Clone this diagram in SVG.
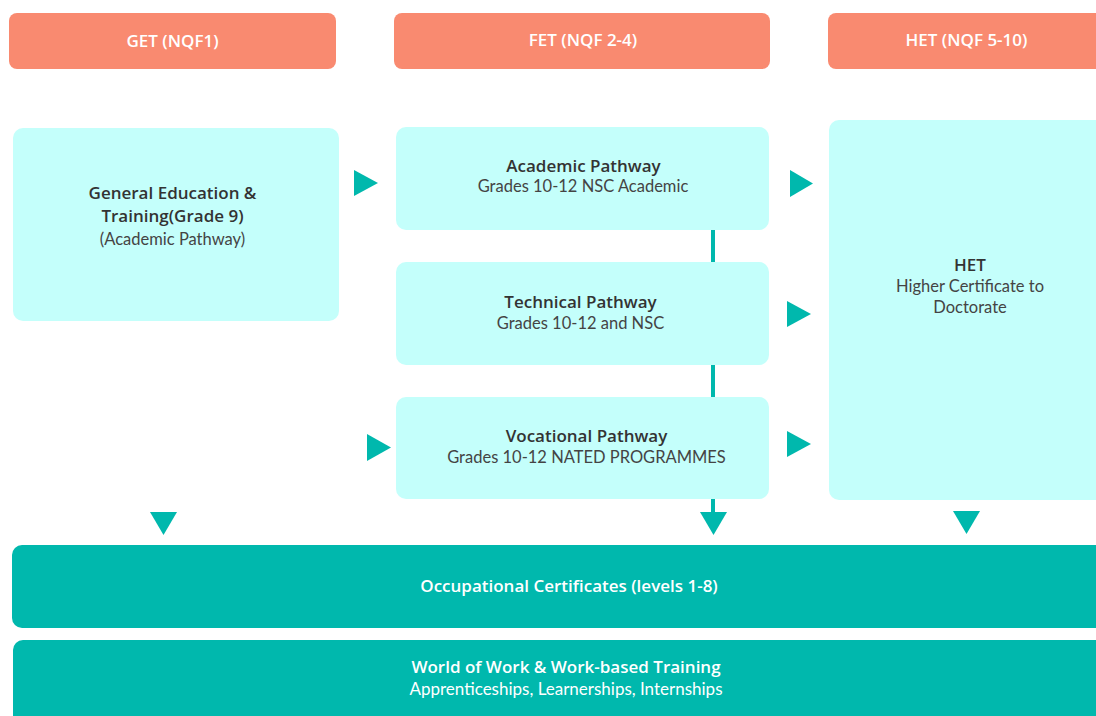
<svg xmlns="http://www.w3.org/2000/svg" width="1096" height="716" viewBox="0 0 1096 716">
  <style>
    .hdr { fill: #F98A70; }
    .box { fill: #C4FFFB; }
    .band { fill: #00B8AD; }
    .arr { fill: #00B8AD; }
    text { text-anchor: middle; }
    .ht, .t, .wt { font-family: "Open Sans", "Noto Sans", sans-serif; font-size: 17px; font-weight: 600; }
    .s, .ws { font-family: "Lato", "Noto Sans", sans-serif; font-size: 16.5px; }
    .ws { font-size: 17px; }
    .ht, .wt, .ws { fill: #FFFFFF; }
    .t { fill: #333333; }
    .s { fill: #444444; }
  </style>
  <rect width="1096" height="716" fill="#FFFFFF"/>

  <!-- column headers -->
  <g id="hdr-get">
    <rect class="hdr" x="9" y="13" width="327" height="56" rx="8"/>
    <text class="ht" x="172.5" y="47">GET (NQF1)</text>
  </g>
  <g id="hdr-fet">
    <rect class="hdr" x="394" y="13" width="376" height="56" rx="8"/>
    <text class="ht" x="583" y="46">FET (NQF 2-4)</text>
  </g>
  <g id="hdr-het">
    <rect class="hdr" x="828" y="13" width="290" height="56" rx="8"/>
    <text class="ht" x="966.5" y="46">HET (NQF 5-10)</text>
  </g>

  <!-- pathway nodes -->
  <g id="get">
    <rect class="box" x="13" y="128" width="326" height="193" rx="10"/>
    <text class="t" x="172.5" y="199">General Education &amp;</text>
    <text class="t" x="172.5" y="222">Training(Grade 9)</text>
    <text class="s" x="172.5" y="245">(Academic Pathway)</text>
  </g>
  <g id="academic">
    <rect class="box" x="396" y="127" width="373" height="103" rx="10"/>
    <text class="t" x="583.5" y="172">Academic Pathway</text>
    <text class="s" x="583" y="192">Grades 10-12 NSC Academic</text>
  </g>
  <g id="technical">
    <rect class="box" x="396" y="262" width="373" height="103" rx="10"/>
    <text class="t" x="580.5" y="308">Technical Pathway</text>
    <text class="s" x="580.5" y="329">Grades 10-12 and NSC</text>
  </g>
  <g id="vocational">
    <rect class="box" x="396" y="397" width="373" height="102" rx="10"/>
    <text class="t" x="586.5" y="442">Vocational Pathway</text>
    <text class="s" x="586.5" y="463">Grades 10-12 NATED PROGRAMMES</text>
  </g>
  <g id="het">
    <rect class="box" x="829" y="120" width="290" height="380" rx="10"/>
    <text class="t" x="970" y="271">HET</text>
    <text class="s" x="970" y="292">Higher Certificate to</text>
    <text class="s" x="970" y="313">Doctorate</text>
  </g>

  <!-- outcome bands -->
  <g id="occupational">
    <rect class="band" x="12" y="545" width="1110" height="83" rx="10"/>
    <text class="wt" x="569" y="592">Occupational Certificates (levels 1-8)</text>
  </g>
  <g id="world-of-work">
    <rect class="band" x="13" y="640" width="1110" height="100" rx="10"/>
    <text class="wt" x="566" y="673">World of Work &amp; Work-based Training</text>
    <text class="ws" x="566" y="695">Apprenticeships, Learnerships, Internships</text>
  </g>

  <!-- connectors -->
  <g id="connectors">
    <rect class="arr" x="711" y="230" width="4" height="32"/>
    <rect class="arr" x="711" y="365" width="4" height="32"/>
    <rect class="arr" x="711" y="499" width="4" height="14"/>
    <polygon class="arr" points="700,512 727,512 713.5,535"/>
    <polygon class="arr" points="150,512 177,512 163.5,535"/>
    <polygon class="arr" points="953,511 980,511 966.5,534"/>
    <polygon class="arr" points="354,170 378,183 354,196"/>
    <polygon class="arr" points="367,434 391,447.5 367,461"/>
    <polygon class="arr" points="790,170 813,183.5 790,197"/>
    <polygon class="arr" points="787,301 811,314 787,327"/>
    <polygon class="arr" points="787,431 811,444 787,457"/>
  </g>
</svg>
